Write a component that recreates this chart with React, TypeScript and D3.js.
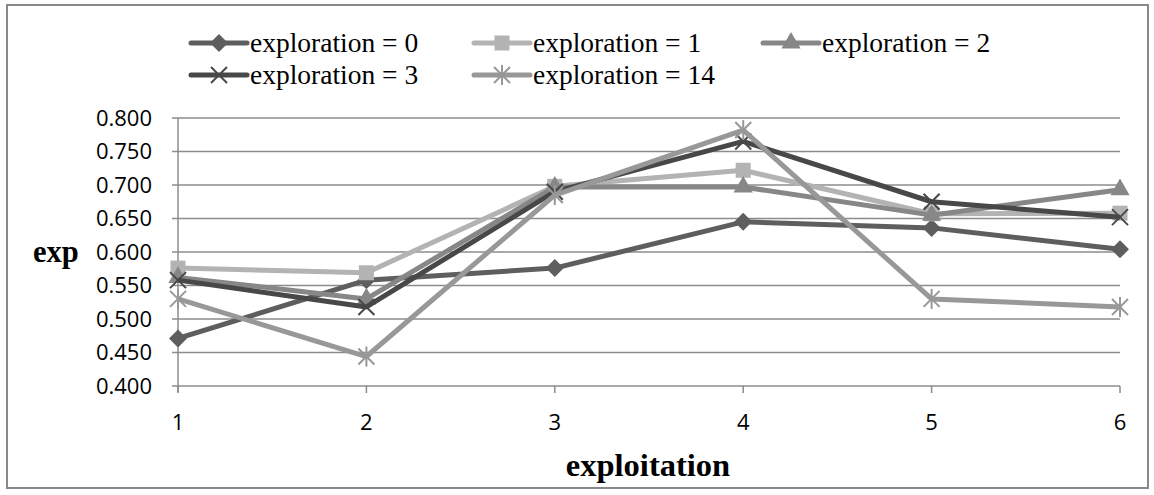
import React from "react";
import * as d3 from "d3";

const categories = [1, 2, 3, 4, 5, 6];
const seriesNames = ["exploration = 0", "exploration = 1", "exploration = 2", "exploration = 3", "exploration = 14"];
const exp0 = [0.471, 0.558, 0.576, 0.645, 0.636, 0.604];
const exp1 = [0.576, 0.569, 0.698, 0.722, 0.657, 0.658];
const exp2 = [0.562, 0.530, 0.697, 0.697, 0.655, 0.693];
const exp3 = [0.558, 0.518, 0.690, 0.765, 0.675, 0.652];
const exp14 = [0.530, 0.444, 0.685, 0.782, 0.530, 0.518];
const yTicks = [0.4, 0.45, 0.5, 0.55, 0.6, 0.65, 0.7, 0.75, 0.8];

const seriesValues = [exp0, exp1, exp2, exp3, exp14];
const colors = ["#5e5e5e", "#b3b3b3", "#878787", "#484848", "#989898"];
const markers = ["diamond", "square", "triangle", "x", "star"];

function Marker({ kind, x, y, color }: { kind: string; x: number; y: number; color: string }) {
  if (kind === "diamond") {
    const r = 9;
    return <path d={`M${x},${y - r}L${x + r},${y}L${x},${y + r}L${x - r},${y}Z`} fill={color} />;
  }
  if (kind === "square") {
    return <rect x={x - 7.5} y={y - 7.5} width={15} height={15} fill={color} />;
  }
  if (kind === "triangle") {
    return <path transform={`translate(${x},${y})`} d={d3.symbol(d3.symbolTriangle, 160)()!} fill={color} />;
  }
  const r = 8;
  if (kind === "x") {
    return (
      <g stroke={color} strokeWidth={2}>
        <line x1={x - r} y1={y - r} x2={x + r} y2={y + r} />
        <line x1={x - r} y1={y + r} x2={x + r} y2={y - r} />
      </g>
    );
  }
  return (
    <g stroke={color} strokeWidth={2}>
      <line x1={x - r} y1={y - r} x2={x + r} y2={y + r} />
      <line x1={x - r} y1={y + r} x2={x + r} y2={y - r} />
      <line x1={x} y1={y - r - 2} x2={x} y2={y + r + 2} />
    </g>
  );
}

export default function App() {
  const x = d3.scalePoint<number>().domain(categories).range([178, 1120]);
  const y = d3.scaleLinear().domain([0.4, 0.8]).range([386, 118]);
  const line = d3
    .line<number>()
    .x((_, i) => x(categories[i])!)
    .y((d) => y(d));

  const legendCols = [191, 474, 763];
  const legendRows = [43, 75];
  const serif = "'Liberation Serif', 'Times New Roman', serif";
  const sans = "'Open Sans', 'DejaVu Sans', sans-serif";

  return (
    <svg width={1154} height={495} style={{ position: "fixed", left: 0, top: 0 }} viewBox="0 0 1154 495">
      <rect x={0} y={0} width={1154} height={495} fill="#fff" />
      <rect x={7} y={5} width={1141} height={483} fill="#fff" stroke="#888" strokeWidth={2} />
      {/* gridlines */}
      {yTicks.map((t) => (
        <line key={t} x1={172} x2={1120} y1={y(t)} y2={y(t)} stroke="#8c8c8c" strokeWidth={1.5} />
      ))}
      {/* y axis */}
      <line x1={178} x2={178} y1={y(0.8)} y2={y(0.4) + 6} stroke="#8c8c8c" strokeWidth={1.5} />
      {categories.map((c) => (
        <line key={c} x1={x(c)} x2={x(c)} y1={y(0.4)} y2={y(0.4) + 7} stroke="#8c8c8c" strokeWidth={1.5} />
      ))}
      {yTicks.map((t) => (
        <text key={t} x={152} y={y(t)} dy="0.36em" textAnchor="end" fontFamily={sans} fontSize={22} fill="#000">
          {d3.format(".3f")(t)}
        </text>
      ))}
      {categories.map((c) => (
        <text key={c} x={x(c)} y={422} dy="0.36em" textAnchor="middle" fontFamily={sans} fontSize={22} fill="#000">
          {c}
        </text>
      ))}
      {/* series */}
      {seriesValues.map((vals, si) => (
        <g key={si}>
          <path d={line(vals)!} fill="none" stroke={colors[si]} strokeWidth={5} strokeLinejoin="round" />
          {vals.map((v, i) => (
            <Marker key={i} kind={markers[si]} x={x(categories[i])!} y={y(v)} color={colors[si]} />
          ))}
        </g>
      ))}
      {/* legend */}
      {seriesNames.map((name, si) => {
        const col = si < 3 ? si : si - 3;
        const row = si < 3 ? 0 : 1;
        const lx = legendCols[col];
        const ly = legendRows[row];
        return (
          <g key={si}>
            <line x1={lx} x2={lx + 56} y1={ly} y2={ly} stroke={colors[si]} strokeWidth={5} strokeLinecap="round" />
            <Marker kind={markers[si]} x={lx + 28} y={ly} color={colors[si]} />
            <text x={lx + 59} y={ly} dy="0.33em" fontFamily={serif} fontSize={27.5} fill="#000">
              {name}
            </text>
          </g>
        );
      })}
      {/* axis titles */}
      <text x={33} y={252} dy="0.33em" fontFamily={serif} fontWeight="bold" fontSize={30.5} fill="#000">
        exp
      </text>
      <text x={648} y={465} dy="0.33em" textAnchor="middle" fontFamily={serif} fontWeight="bold" fontSize={32.5} fill="#000">
        exploitation
      </text>
    </svg>
  );
}
